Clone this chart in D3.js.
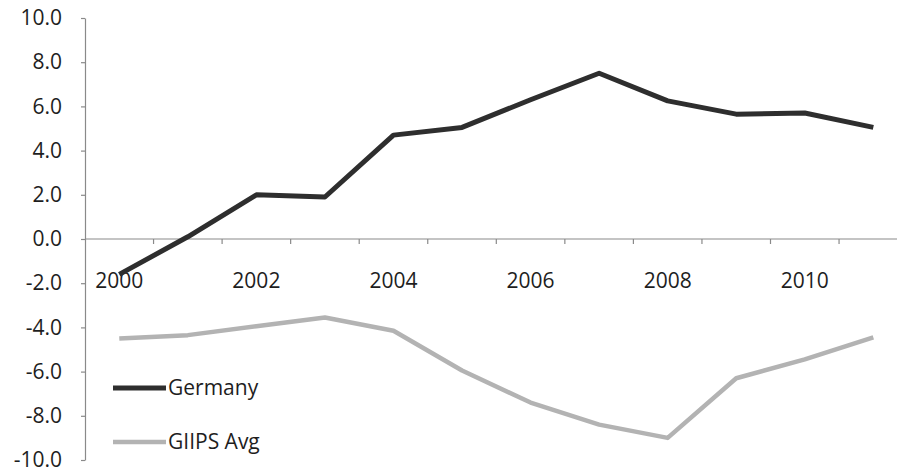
<!DOCTYPE html>
<html>
<head>
<meta charset="utf-8">
<script src="https://cdn.jsdelivr.net/npm/d3@7"></script>
<style>
  html, body { margin: 0; padding: 0; background: #fff; }
  svg { display: block; font-family: "Open Sans", Lato, sans-serif; }
</style>
</head>
<body>
<svg id="chart" width="897" height="471"></svg>
<script>
// Annual values, 2000–2011
const years = [2000, 2001, 2002, 2003, 2004, 2005, 2006, 2007, 2008, 2009, 2010, 2011];
const germany = [-1.6, 0.1, 2.0, 1.9, 4.7, 5.05, 6.3, 7.5, 6.25, 5.65, 5.7, 5.05];
const giips = [-4.5, -4.35, -3.95, -3.55, -4.15, -5.95, -7.4, -8.4, -9.0, -6.3, -5.45, -4.45];
const seriesNames = ["Germany", "GIIPS Avg"];
const yTicks = [-10, -8, -6, -4, -2, 0, 2, 4, 6, 8, 10];
const xLabelYears = [2000, 2002, 2004, 2006, 2008, 2010];

const svg = d3.select("#chart");
const axisColor = "#8a8a8a";
const textColor = "#1e1e1e";
const fontFamily = "'Open Sans', Lato, sans-serif";
const fontSize = "21px";

const plotLeft = 85, plotTop = 18, plotBottom = 460;
const step = 68.55;

const x = d3.scaleBand()
  .domain(years)
  .range([plotLeft, plotLeft + step * years.length])
  .paddingInner(0).paddingOuter(0);

const y = d3.scaleLinear().domain([-10, 10]).range([plotBottom, plotTop]);

const xc = d => x(d) + x.bandwidth() / 2;

// Y axis
const yAxis = svg.append("g")
  .attr("transform", `translate(${plotLeft},0)`)
  .call(d3.axisLeft(y)
    .tickValues(yTicks)
    .tickFormat(d => d.toFixed(1))
    .tickSize(4)
    .tickSizeOuter(0)
    .tickPadding(19));
yAxis.select(".domain").attr("stroke", axisColor).attr("stroke-width", 1.2);
yAxis.selectAll(".tick line").attr("stroke", axisColor).attr("stroke-width", 1.2);
yAxis.selectAll(".tick text")
  .attr("fill", textColor)
  .style("font-size", fontSize)
  .style("font-family", fontFamily);

// X axis along zero, with category labels set below it
const zeroY = y(0);
svg.append("line")
  .attr("x1", plotLeft).attr("x2", 897)
  .attr("y1", zeroY).attr("y2", zeroY)
  .attr("stroke", axisColor).attr("stroke-width", 1.2);

// tick marks fall between categories
const boundaries = years.map(d => x(d)).concat([x(years[years.length - 1]) + x.step()]);
svg.append("g").selectAll("line")
  .data(boundaries.slice(1))
  .join("line")
  .attr("x1", d => d).attr("x2", d => d)
  .attr("y1", zeroY).attr("y2", zeroY + 5)
  .attr("stroke", axisColor).attr("stroke-width", 1.2);

const xAxis = svg.append("g")
  .attr("transform", `translate(0,${zeroY})`)
  .call(d3.axisBottom(x)
    .tickValues(xLabelYears)
    .tickSize(0)
    .tickPadding(34));
xAxis.select(".domain").remove();
xAxis.selectAll(".tick text")
  .attr("fill", textColor)
  .style("font-size", fontSize)
  .style("font-family", fontFamily);

// Series lines
const line = d3.line()
  .x((d, i) => xc(years[i]))
  .y(d => y(d));

svg.append("path")
  .datum(giips)
  .attr("fill", "none")
  .attr("stroke", "#b3b3b3")
  .attr("stroke-width", 4.5)
  .attr("stroke-linejoin", "round")
  .attr("d", line);

svg.append("path")
  .datum(germany)
  .attr("fill", "none")
  .attr("stroke", "#2e2e2e")
  .attr("stroke-width", 5)
  .attr("stroke-linejoin", "round")
  .attr("d", line);

// Legend
const legend = [
  { name: seriesNames[0], color: "#2e2e2e", width: 5, cy: 388 },
  { name: seriesNames[1], color: "#b3b3b3", width: 4.5, cy: 442 }
];
const lg = svg.append("g").selectAll("g").data(legend).join("g");
lg.append("line")
  .attr("x1", 113).attr("x2", 166)
  .attr("y1", d => d.cy).attr("y2", d => d.cy)
  .attr("stroke", d => d.color)
  .attr("stroke-width", d => d.width);
lg.append("text")
  .attr("x", 168)
  .attr("y", d => d.cy)
  .attr("dy", "0.35em")
  .attr("fill", textColor)
  .style("font-size", fontSize)
  .style("font-family", fontFamily)
  .text(d => d.name);
</script>
</body>
</html>
